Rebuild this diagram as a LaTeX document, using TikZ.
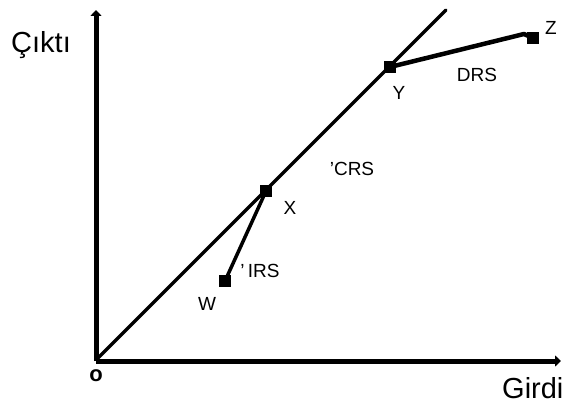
\documentclass[tikz,border=0pt]{standalone}
\usepackage{fontspec}
\setmainfont{Liberation Sans}
\usetikzlibrary{arrows.meta}
\begin{document}
\begin{tikzpicture}[x=1pt,y=-1pt,
  axis/.style={line width=5pt,-{Triangle[length=6pt,width=11pt]}},
  seg/.style={line width=3.5pt},
  pt/.style={fill=black,minimum size=12pt,inner sep=0pt,rectangle},
  lbl/.style={font=\fontsize{19}{22}\selectfont,inner sep=0pt,anchor=base},
  big/.style={font=\fontsize{29}{34}\selectfont,inner sep=0pt,anchor=base west}]
\useasboundingbox (0,0) rectangle (569,406);
\coordinate (O) at (96,361);
\coordinate (ytop) at (96,10);
\coordinate (xend) at (561,361);
\coordinate (dstart) at (98,358);
\coordinate (dend) at (446,10);
\draw[axis] (O) -- (ytop);
\draw[axis] (O) -- (xend);
\draw[line width=3.5pt,line cap=round] (dstart) -- (dend);
\node[pt] (X) at (266,191) {};
\node[pt] (Y) at (390,67) {};
\node[pt] (W) at (225,281) {};
\node[pt] (Z) at (533,38) {};
\coordinate (bend) at (524,34);
\draw[seg] (W.center) -- (X.center);
\draw[line width=4.5pt,line join=round] (Y.center) -- (bend) -- (Z.center);
\node[big] (cikti) at (11,53) {Çıktı};
\node[big] (girdi) at (502,398) {Girdi};
\node[lbl,font=\fontsize{22}{24}\selectfont\bfseries] (o) at (96,381) {o};
\node[lbl] (lx) at (290,214) {X};
\node[lbl] (ly) at (399,100) {Y};
\node[lbl] (lz) at (551,35) {Z};
\node[lbl] (lw) at (207,310) {W};
\node[lbl] (drs) at (477,82) {DRS};
\node[lbl] (crs) at (352,175) {'CRS};
\node[lbl] (irs) at (260,277) {'\,IRS};
\end{tikzpicture}
\end{document}
